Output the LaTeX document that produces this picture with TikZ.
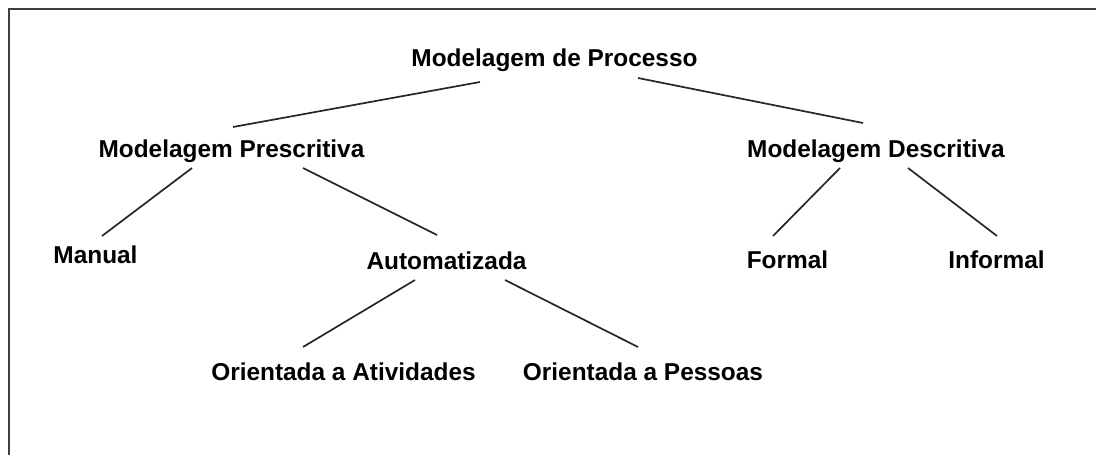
\documentclass[tikz,border=0pt]{standalone}
\usepackage{fontspec}
\setmainfont{Liberation Sans}
\usetikzlibrary{calc}

\begin{document}
\begin{tikzpicture}[
    x=0.5pt,
    y=-0.5pt,
    every node/.style={
        anchor=base,
        inner sep=0pt,
        font=\fontsize{12.2}{14}\selectfont\bfseries
    },
    link/.style={draw=black!85,line width=0.85pt},
    frame/.style={draw=black!75,line width=1.2pt}
]
\useasboundingbox (0,0) rectangle (1096,455);
\draw[frame] (9,455) -- (9,9) -- (1096,9);

\node (root)     at (554.5,66) {Modelagem de Processo};
\node (presc)    at (231.5,157) {Modelagem Prescritiva};
\node (desc)     at (876,157)   {Modelagem Descritiva};
\node (manual)   at (95.5,263)  {Manual};
\node (auto)     at (446.5,269) {Automatizada};
\node (formal)   at (787.5,268) {Formal};
\node (informal) at (996.5,268) {Informal};
\node (ativ)     at (343.5,380) {Orientada a Atividades};
\node (pess)     at (643,380)   {Orientada a Pessoas};

\draw[link] ($(root.base)+(-74.5,16)$) -- ($(presc.base)+(1.5,-30)$);
\draw[link] ($(root.base)+(83.5,12)$)  -- ($(desc.base)+(-13,-34)$);
\draw[link] ($(presc.base)+(-39.5,11)$) -- ($(manual.base)+(6.5,-27)$);
\draw[link] ($(presc.base)+(71.5,11)$)  -- ($(auto.base)+(-9.5,-34)$);
\draw[link] ($(desc.base)+(-36,11)$) -- ($(formal.base)+(-14.5,-32)$);
\draw[link] ($(desc.base)+(32,11)$)  -- ($(informal.base)+(0.5,-32)$);
\draw[link] ($(auto.base)+(-31.5,11)$) -- ($(ativ.base)+(-40.5,-33)$);
\draw[link] ($(auto.base)+(58.5,11)$)  -- ($(pess.base)+(-5,-33)$);
\end{tikzpicture}
\end{document}
